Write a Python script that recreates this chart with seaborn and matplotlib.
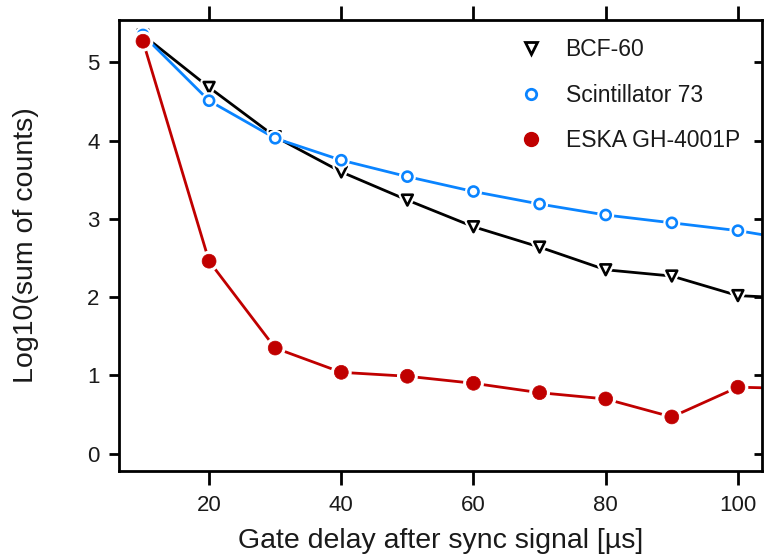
import matplotlib
matplotlib.use("Agg")
import matplotlib.pyplot as plt
import matplotlib.patheffects as pe
from matplotlib.lines import Line2D
import seaborn as sns
import pandas as pd

sns.set_theme(style="white")
plt.rcParams['font.family'] = ['Liberation Sans', 'DejaVu Sans']

delay = [10, 20, 30, 40, 50, 60, 70, 80, 90, 100, 110]
bcf60 = [5.35, 4.68, 4.05, 3.60, 3.24, 2.90, 2.64, 2.35, 2.27, 2.02, 1.98]
scint73 = [5.35, 4.51, 4.03, 3.75, 3.54, 3.35, 3.19, 3.05, 2.95, 2.85, 2.71]
eska = [5.27, 2.46, 1.35, 1.04, 0.99, 0.90, 0.78, 0.70, 0.47, 0.85, 0.83]
names = ["BCF-60", "Scintillator 73", "ESKA GH-4001P"]
colors = ["#000000", "#0a84ff", "#c00000"]
xticks = [20, 40, 60, 80, 100]
yticks = [0, 1, 2, 3, 4, 5]

txt = "#1a1a1a"
fig = plt.figure(figsize=(7.64, 5.58), dpi=100)
ax = fig.add_axes([0.156, 0.156, 0.841, 0.808])

series = [bcf60, scint73, eska]
styles = [
    dict(marker="v", s=60, facecolor="white", lw=1.9),
    dict(marker="o", s=52, facecolor="white", lw=1.9),
    dict(marker="o", s=100, facecolor=None, lw=0.5),
]
for vals, col in zip(series, colors):
    df = pd.DataFrame({"x": delay, "y": vals})
    sns.lineplot(data=df, x="x", y="y", color=col, lw=2.0, ax=ax, zorder=2)
for i, (vals, col, st) in enumerate(zip(series, colors, styles)):
    df = pd.DataFrame({"x": delay, "y": vals})
    fc = st["facecolor"] if st["facecolor"] else col
    sns.scatterplot(data=df, x="x", y="y", marker=st["marker"], s=st["s"],
                    color=fc, edgecolor=col, linewidth=st["lw"], ax=ax,
                    zorder=3 + i,
                    path_effects=[pe.Stroke(linewidth=5, foreground="white"), pe.Normal()])

ax.set_xlim(6.4, 103.6)
ax.set_ylim(-0.22, 5.54)
ax.set_xticks(xticks)
ax.set_yticks(yticks)
ax.tick_params(axis="both", labelsize=16, width=2, length=10, direction="out",
               colors="black", labelcolor=txt, pad=7)
ax.tick_params(axis="x", top=True, bottom=True, labeltop=False)
ax.tick_params(axis="y", left=True, right=True, length=7)
for t in ax.yaxis.get_major_ticks():
    t.tick2line.set_marker(0)  # inward tick on right side
    t.tick2line.set_markersize(6)
for sp in ax.spines.values():
    sp.set_linewidth(2)
    sp.set_color("black")

ax.set_xlabel("Gate delay after sync signal [\u00b5s]", fontsize=20.5, labelpad=9, color=txt)
ax.set_ylabel("Log10(sum of counts)", fontsize=20.5, labelpad=35, color=txt)

handles = [
    Line2D([], [], ls="none", marker="v", ms=8, mfc="white", mec=colors[0], mew=2),
    Line2D([], [], ls="none", marker="o", ms=7.5, mfc="white", mec=colors[1], mew=2),
    Line2D([], [], ls="none", marker="o", ms=10, mfc=colors[2], mec=colors[2]),
]
leg = ax.legend(handles, names, loc="upper right", frameon=False, fontsize=16.5,
                labelspacing=0.98, handletextpad=0.75, handlelength=1.5,
                bbox_to_anchor=(0.998, 1.005), labelcolor=txt)

fig.savefig("out.png", dpi=100)
